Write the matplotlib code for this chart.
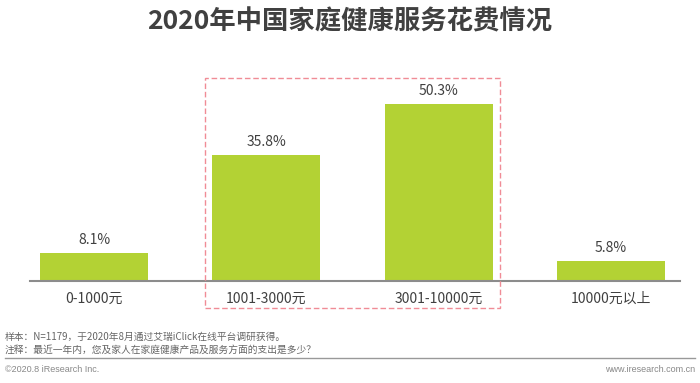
import matplotlib
matplotlib.use("Agg")
import matplotlib.pyplot as plt
from matplotlib.patches import Rectangle
from matplotlib.lines import Line2D

plt.rcParams['font.family'] = ['Noto Sans CJK SC', 'DejaVu Sans']

categories = ["0-1000元", "1001-3000元", "3001-10000元", "10000元以上"]
shares = [8.1, 35.8, 50.3, 5.8]
value_labels = ["8.1%", "35.8%", "50.3%", "5.8%"]

title = "2020年中国家庭健康服务花费情况"
note1 = "样本：N=1179，于2020年8月通过艾瑞iClick在线平台调研获得。"
note2 = "注释：最近一年内，您及家人在家庭健康产品及服务方面的支出是多少？"
copyright_txt = "©2020.8 iResearch Inc."
site_txt = "www.iresearch.com.cn"

GREEN = "#B3D234"
TEXT = "#404040"

fig = plt.figure(figsize=(7, 3.83), dpi=100)
ax = fig.add_axes([30/700, 1-281/383, 650/700, 211/383])

x = list(range(len(categories)))
ax.bar(x, shares, width=0.625, color=GREEN, zorder=2)
for xi, v, lab in zip(x, shares, value_labels):
    ax.text(xi, v + 1.6, lab, ha="center", va="bottom", fontsize=10, color=TEXT)

ax.set_xlim(-0.371, 3.4)
ax.set_ylim(0, 60)
ax.set_xticks(x)
ax.set_xticklabels(categories, fontsize=10, color=TEXT)
ax.tick_params(axis="x", length=0, pad=8)
ax.set_yticks([])
for s in ["top", "left", "right"]:
    ax.spines[s].set_visible(False)
ax.spines["bottom"].set_color("#8c8c8c")
ax.spines["bottom"].set_linewidth(1.5)

fig.text(0.5, 1-22/383, title, ha="center", va="center", fontsize=19,
         fontweight="bold", color=TEXT)

# highlight box
fig.patches.append(Rectangle((205/700, 1-308/383), 295/700, 230/383,
                             transform=fig.transFigure, fill=False,
                             edgecolor="#F08C96", linestyle=(0, (4, 2)),
                             linewidth=1.0))

fig.text(5/700, 1-337/383, note1, ha="left", va="center", fontsize=7, color="#666666")
fig.text(5/700, 1-350/383, note2, ha="left", va="center", fontsize=7, color="#666666")
fig.lines.append(Line2D([5/700, 695/700], [1-358/383, 1-358/383],
                        transform=fig.transFigure, color="#999999", linewidth=1))
fig.text(5/700, 1-370/383, copyright_txt, ha="left", va="center", fontsize=6.5,
         color="#888888", family=["Liberation Sans", "DejaVu Sans"])
fig.text(695/700, 1-370/383, site_txt, ha="right", va="center", fontsize=6.5,
         color="#888888", family=["Liberation Sans", "DejaVu Sans"])

fig.savefig("out.png", dpi=100)
